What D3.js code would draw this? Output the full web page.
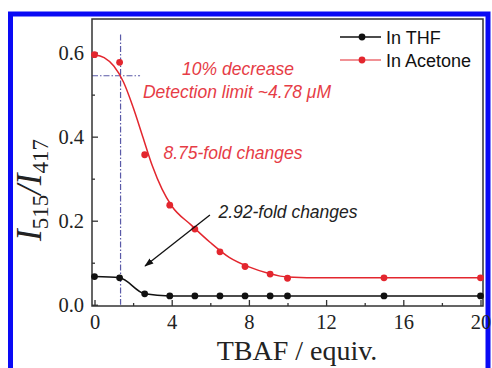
<!DOCTYPE html>
<html>
<head>
<meta charset="utf-8">
<script src="https://cdn.jsdelivr.net/npm/d3@7/dist/d3.min.js"></script>
<style>
  body { margin: 0; background: #fff; }
  svg { display: block; }
  .serif { font-family: "Liberation Serif", "Times New Roman", serif; }
  .sans { font-family: "Liberation Sans", Arial, sans-serif; }
</style>
</head>
<body>
<svg id="chart" width="492" height="368"></svg>
<script>
// TBAF equivalents (shared by both series)
const tbaf = [0, 1.3, 2.6, 3.9, 5.2, 6.5, 7.8, 9.1, 10, 15, 20];
// I515/I417 ratios
const thfRatio = [0.067, 0.064, 0.026, 0.021, 0.021, 0.021, 0.021, 0.021, 0.021, 0.021, 0.021];
const acetoneRatio = [0.595, 0.577, 0.357, 0.237, 0.180, 0.126, 0.091, 0.073, 0.063, 0.064, 0.064];
// fitted curve through the acetone data
const acetoneFitX = [0, 0.5, 1, 1.5, 2, 2.5, 3, 3.5, 4, 5, 6, 7, 8, 9, 10, 12, 20];
const acetoneFitY = [0.595, 0.588, 0.568, 0.53, 0.47, 0.40, 0.33, 0.275, 0.235, 0.19, 0.148, 0.112, 0.09, 0.075, 0.066, 0.064, 0.064];
const xTicks = [0, 4, 8, 12, 16, 20];
const xMinor = [2, 6, 10, 14, 18];
const yTicks = [0.0, 0.2, 0.4, 0.6];
const yMinor = [0.1, 0.3, 0.5];
// detection limit guide lines
const detectionX = 1.35;
const detectionY = 0.545;

const svg = d3.select('#chart');
const red = '#e3262e';
const redText = '#e63c46';
const guide = '#5a5aa8';
const axisColor = '#333';

const frame = { left: 92, right: 483, top: 19, bottom: 306 };

const x = d3.scaleLinear().domain([-0.13, 20.13]).range([frame.left, frame.right]);
const y = d3.scaleLinear().domain([-0.003, 0.68]).range([frame.bottom, frame.top]);

// blue outer border (open at the bottom)
svg.append('rect')
  .attr('x', 10.5).attr('y', 14).attr('width', 477.5).attr('height', 420)
  .attr('fill', 'none').attr('stroke', '#0a0af5').attr('stroke-width', 5);

// guide lines (dash-dot)
svg.append('line')
  .attr('x1', x(detectionX)).attr('x2', x(detectionX))
  .attr('y1', y(0.643)).attr('y2', y(0))
  .attr('stroke', guide).attr('stroke-width', 1.2)
  .attr('stroke-dasharray', '6,2,1.5,2');
svg.append('line')
  .attr('x1', frame.left).attr('x2', x(2.36))
  .attr('y1', y(detectionY)).attr('y2', y(detectionY))
  .attr('stroke', guide).attr('stroke-width', 1.2)
  .attr('stroke-dasharray', '6,2,1.5,2');

// axes with inward ticks
const xAxis = d3.axisBottom(x).tickValues(xTicks).tickSize(-6).tickPadding(8).tickFormat(d3.format('d'));
const xAxisMinor = d3.axisBottom(x).tickValues(xMinor).tickSize(-3).tickFormat('');
const yAxis = d3.axisLeft(y).tickValues(yTicks).tickSize(-6).tickPadding(8).tickFormat(d3.format('.1f'));
const yAxisMinor = d3.axisLeft(y).tickValues(yMinor).tickSize(-3).tickFormat('');

function styleAxis(g) {
  g.select('.domain').remove();
  g.selectAll('line').attr('stroke', axisColor).attr('stroke-width', 1.3);
  g.selectAll('text').attr('class', 'serif').attr('font-size', 20.5).attr('fill', '#222');
}

svg.append('g').attr('transform', `translate(0,${frame.bottom})`).call(xAxis).call(styleAxis);
svg.append('g').attr('transform', `translate(0,${frame.bottom})`).call(xAxisMinor).call(styleAxis);
svg.append('g').attr('transform', `translate(${frame.left},0)`).call(yAxis).call(styleAxis);
svg.append('g').attr('transform', `translate(${frame.left},0)`).call(yAxisMinor).call(styleAxis);

// frame
svg.append('rect')
  .attr('x', frame.left).attr('y', frame.top)
  .attr('width', frame.right - frame.left).attr('height', frame.bottom - frame.top)
  .attr('fill', 'none').attr('stroke', axisColor).attr('stroke-width', 1.5);

// acetone fit
const fitLine = d3.line().x(d => x(d[0])).y(d => y(d[1])).curve(d3.curveMonotoneX);
svg.append('path')
  .datum(acetoneFitX.map((v, i) => [v, acetoneFitY[i]]))
  .attr('d', fitLine)
  .attr('fill', 'none').attr('stroke', red).attr('stroke-width', 1.5);

// THF line
svg.append('path')
  .datum(tbaf.map((v, i) => [v, thfRatio[i]]))
  .attr('d', fitLine)
  .attr('fill', 'none').attr('stroke', '#111').attr('stroke-width', 1.5);

// markers
svg.append('g').selectAll('circle')
  .data(tbaf.map((v, i) => [v, acetoneRatio[i]]))
  .join('circle')
  .attr('cx', d => x(d[0])).attr('cy', d => y(d[1])).attr('r', 3.4)
  .attr('fill', red);
svg.append('g').selectAll('circle')
  .data(tbaf.map((v, i) => [v, thfRatio[i]]))
  .join('circle')
  .attr('cx', d => x(d[0])).attr('cy', d => y(d[1])).attr('r', 3.4)
  .attr('fill', '#111');

// arrow for THF annotation
svg.append('defs').append('marker')
  .attr('id', 'arrow').attr('viewBox', '0 0 10 10')
  .attr('refX', 9).attr('refY', 5)
  .attr('markerWidth', 7).attr('markerHeight', 7)
  .attr('orient', 'auto')
  .append('path').attr('d', 'M0,1.5 L10,5 L0,8.5 Z').attr('fill', '#111');
svg.append('line')
  .attr('x1', x(5.98)).attr('y1', y(0.2136))
  .attr('x2', x(2.62)).attr('y2', y(0.0922))
  .attr('stroke', '#111').attr('stroke-width', 1.3)
  .attr('marker-end', 'url(#arrow)');

// annotations
const notes = [
  { t: '10% decrease', x: 238, y: 75, c: redText },
  { t: 'Detection limit ~4.78 \u03bcM', x: 237, y: 98, c: redText },
  { t: '8.75-fold changes', x: 233, y: 159, c: redText },
  { t: '2.92-fold changes', x: 288, y: 218, c: '#222' },
];
svg.append('g').selectAll('text')
  .data(notes)
  .join('text')
  .attr('class', 'sans')
  .attr('x', d => d.x).attr('y', d => d.y)
  .attr('text-anchor', 'middle')
  .attr('font-size', 17.5).attr('font-style', 'italic')
  .attr('fill', d => d.c)
  .text(d => d.t);

// legend
const legend = [
  { name: 'In THF', color: '#111', line: '#111' },
  { name: 'In Acetone', color: red, line: '#ec6c72' },
];
const lg = svg.append('g').selectAll('g')
  .data(legend)
  .join('g')
  .attr('transform', (d, i) => `translate(0,${37 + i * 23})`);
lg.append('line').attr('x1', 340).attr('x2', 381).attr('y1', 0).attr('y2', 0)
  .attr('stroke', d => d.line).attr('stroke-width', 1.5);
lg.append('circle').attr('cx', 362).attr('cy', 0).attr('r', 3.4).attr('fill', d => d.color);
lg.append('text').attr('class', 'sans').attr('x', 386).attr('y', 6.5)
  .attr('font-size', 18).attr('fill', '#111').text(d => d.name);

// axis titles
svg.append('text')
  .attr('class', 'serif')
  .attr('x', 297).attr('y', 360)
  .attr('text-anchor', 'middle')
  .attr('font-size', 28).attr('fill', '#222')
  .text('TBAF / equiv.');

const yl = svg.append('text')
  .attr('class', 'serif')
  .attr('transform', 'translate(41,190) rotate(-90)')
  .attr('text-anchor', 'middle')
  .attr('font-size', 35).attr('font-style', 'italic').attr('fill', '#222');
yl.append('tspan').text('I');
yl.append('tspan').attr('font-size', 23).attr('font-style', 'normal').attr('dy', 7).text('515');
yl.append('tspan').attr('dy', -7).text('/I');
yl.append('tspan').attr('font-size', 23).attr('font-style', 'normal').attr('dy', 7).text('417');
</script>
</body>
</html>
